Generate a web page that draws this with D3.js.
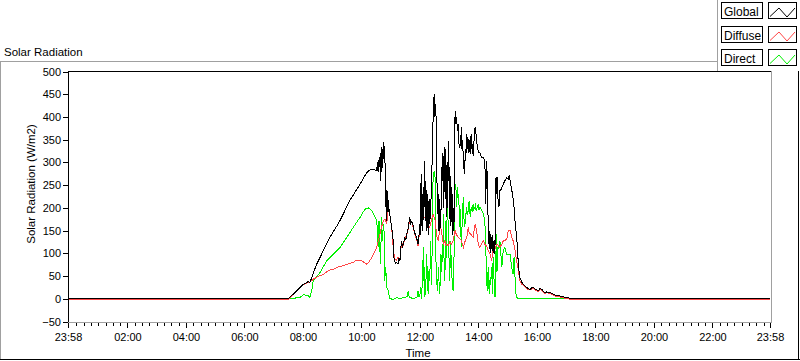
<!DOCTYPE html>
<html><head><meta charset="utf-8">
<script src="https://cdn.jsdelivr.net/npm/d3@7/dist/d3.min.js"></script>
<style>
html,body{margin:0;padding:0;background:#fff;}
svg{display:block;font-family:"Liberation Sans",Arial,sans-serif;}
</style></head><body>
<svg id="c" width="800" height="361"></svg>
<script>
// ---------- data ----------
const chartTitle = "Solar Radiation";
const xTitle = "Time";
const yTitle = "Solar Radiation (W/m2)";
const seriesNames = ["Global", "Diffuse", "Direct"];
const seriesColors = ["#000000", "#ff4545", "#00f000"];
// time in minutes after midnight (23:58 of previous day = -2)
const xTickValues = [-2, 120, 240, 360, 480, 600, 720, 840, 960, 1080, 1200, 1320, 1438];
const xTickLabels = ["23:58", "02:00", "04:00", "06:00", "08:00", "10:00", "12:00", "14:00", "16:00", "18:00", "20:00", "22:00", "23:58"];
const yTickValues = [-50, 0, 50, 100, 150, 200, 250, 300, 350, 400, 450, 500];

const globalData = [[-2,0],[449,0],[460,10],[470,21],[481,32],[488,36],[491,38],[494,35],[498,47],[508,76],[515,91],[525,113],[535,135],[546,154],[556,172],[566,194],[576,216],[587,235],[597,252],[604,265],[611,278],[617,283],[624,285],[631,282],[633,300],[634,280],[635,305],[636,290],[638,311],[639,260],[640,320],[641,333],[642,280],[643,330],[644,300],[645,340],[646,344],[647,310],[648,319],[649,250],[650,201],[651,240],[652,172],[653,220],[654,238],[655,190],[656,200],[658,187],[660,170],[662,157],[665,128],[667,84],[670,78],[672,80],[675,76],[677,90],[679,84],[682,128],[684,115],[686,121],[689,135],[691,130],[693,143],[696,157],[699,179],[701,165],[703,170],[706,161],[708,150],[710,143],[713,135],[716,120],[718,140],[720,164],[721,140],[722,250],[723,275],[724,160],[725,230],[726,150],[727,245],[728,180],[729,304],[730,201],[731,260],[732,172],[733,240],[734,150],[735,164],[736,230],[737,201],[738,140],[739,220],[740,164],[742,200],[744,260],[746,355],[747,399],[749,450],[750,400],[751,428],[752,421],[753,400],[754,370],[755,250],[756,186],[757,230],[758,150],[759,170],[760,220],[761,150],[762,190],[764,201],[765,290],[766,260],[767,320],[768,296],[769,200],[770,310],[771,333],[772,220],[773,330],[774,180],[775,289],[776,300],[777,200],[778,348],[779,260],[780,290],[781,201],[782,160],[783,270],[784,170],[785,245],[786,140],[787,230],[788,150],[789,200],[790,170],[791,300],[792,414],[793,384],[795,399],[797,370],[799,384],[800,340],[802,333],[803,360],[804,348],[805,377],[806,330],[807,350],[809,311],[810,290],[811,275],[812,290],[813,330],[814,304],[815,340],[816,362],[817,330],[818,355],[819,348],[820,320],[821,350],[823,318],[824,345],[825,362],[826,330],[827,340],[828,320],[829,318],[831,350],[833,377],[835,362],[837,340],[840,322],[843,322],[845,315],[847,311],[850,311],[853,304],[854,260],[855,208],[856,280],[857,304],[858,260],[859,200],[860,172],[861,120],[862,150],[863,110],[864,143],[865,100],[866,135],[867,128],[868,105],[869,140],[870,113],[871,100],[872,130],[873,98],[874,120],[875,200],[876,267],[877,230],[878,255],[879,267],[880,220],[882,201],[884,238],[886,240],[888,245],[891,252],[894,260],[896,262],[898,267],[901,263],[903,271],[906,252],[908,240],[910,230],[913,201],[915,170],[917,150],[920,113],[922,69],[925,47],[929,36],[932,32],[935,28],[939,25],[942,22],[946,21],[949,24],[952,25],[955,22],[958,20],[963,18],[966,22],[970,21],[973,16],[976,14],[980,15],[987,14],[993,10],[1000,7],[1007,6],[1014,4],[1021,3],[1028,1],[1038,0],[1438,0]];

const diffuseData = [[-2,-2],[449,-2],[460,9],[470,20],[481,31],[488,35],[494,36],[501,43],[511,49],[522,54],[532,62],[542,65],[552,70],[563,73],[573,77],[583,80],[590,85],[595,83],[600,84],[605,80],[611,76],[614,79],[617,84],[621,90],[624,98],[628,105],[631,113],[635,128],[638,143],[641,157],[645,172],[648,175],[650,170],[652,164],[654,195],[656,200],[658,186],[660,170],[662,157],[665,113],[668,87],[672,85],[675,91],[679,84],[682,125],[686,118],[689,132],[693,140],[696,154],[699,176],[703,168],[706,158],[710,140],[713,132],[716,117],[718,135],[720,160],[723,186],[726,175],[730,180],[734,179],[737,165],[740,157],[744,175],[747,186],[749,180],[751,172],[754,143],[756,130],[758,128],[761,164],[764,150],[766,135],[768,120],[771,128],[773,118],[775,120],[778,117],[781,125],[785,120],[788,128],[792,150],[795,140],[799,135],[802,132],[805,128],[809,113],[812,125],[816,135],[819,157],[821,145],[823,143],[826,140],[829,135],[833,164],[836,150],[840,117],[843,113],[847,122],[850,128],[853,120],[857,115],[860,106],[864,98],[867,84],[870,106],[874,110],[877,120],[880,118],[884,113],[888,120],[891,128],[894,128],[898,131],[901,150],[905,151],[908,135],[911,128],[915,106],[918,84],[922,62],[925,40],[929,32],[932,30],[935,26],[939,23],[942,20],[946,19],[949,22],[952,23],[955,20],[958,18],[963,16],[966,20],[970,19],[973,14],[976,12],[980,13],[987,12],[993,8],[1000,5],[1007,4],[1014,2],[1021,1],[1028,-1],[1038,-2],[1438,-2]];

const directData = [[-2,0],[453,0],[474,3],[481,9],[491,7],[494,3],[498,18],[501,40],[508,48],[515,58],[529,84],[542,98],[556,113],[570,135],[583,157],[597,179],[607,197],[614,200],[621,194],[628,179],[631,172],[633,150],[634,113],[635,140],[636,172],[637,130],[639,76],[640,120],[641,179],[642,150],[643,128],[644,150],[646,164],[647,100],[648,40],[649,70],[650,62],[652,25],[655,18],[658,0],[665,-1],[672,2],[680,1],[690,3],[694,5],[696,18],[698,3],[705,1],[712,2],[715,5],[716,18],[718,3],[720,10],[721,25],[723,0],[725,40],[727,113],[728,40],[729,69],[730,3],[732,30],[734,98],[735,40],[737,10],[738,60],[740,40],[742,128],[743,50],[744,30],[745,120],[747,275],[749,280],[751,267],[752,113],[754,40],[756,18],[758,69],[760,10],[761,25],[763,98],[764,60],[766,120],[767,80],[768,186],[769,100],[771,40],[773,172],[774,90],[776,201],[778,164],[779,110],[781,40],[783,128],[784,80],[786,40],[787,25],[788,18],[790,98],[792,252],[794,238],[795,201],[797,245],[798,230],[800,210],[801,157],[802,201],[803,170],[805,113],[807,186],[809,223],[810,180],[812,157],[813,175],[816,201],[817,185],[819,194],[821,216],[823,179],[824,195],[826,201],[827,190],[829,208],[830,195],[833,201],[834,210],[835,194],[837,200],[840,208],[841,195],[843,201],[847,194],[850,186],[853,172],[855,113],[857,40],[858,18],[860,69],[862,10],[864,47],[865,30],[867,69],[869,10],[870,91],[872,40],[874,3],[875,69],[877,143],[878,60],[880,113],[882,110],[884,128],[886,98],[888,69],[890,98],[891,106],[894,113],[896,105],[898,98],[901,98],[905,98],[908,69],[911,54],[913,91],[915,47],[917,10],[918,3],[922,0],[1438,0]];

// ---------- drawing ----------
const svg = d3.select("#c");
const x = d3.scaleLinear().domain([-2, 1438]).range([68, 770]);
const y = d3.scaleLinear().domain([-50, 500]).range([321.5, 71.5]);

// outer frame
svg.append("line").attr("x1",0).attr("x2",717).attr("y1",61.5).attr("y2",61.5).attr("stroke","#a0a0a0");
svg.append("line").attr("x1",0.5).attr("x2",0.5).attr("y1",61.5).attr("y2",360).attr("stroke","#a0a0a0");
svg.append("line").attr("x1",0).attr("x2",800).attr("y1",359.5).attr("y2",359.5).attr("stroke","#000");
svg.append("line").attr("x1",798.5).attr("x2",798.5).attr("y1",61).attr("y2",360).attr("stroke","#000");

// chart title
svg.append("text").attr("x",4).attr("y",55.5).attr("font-size","11.5px").attr("fill","#000").text(chartTitle);

// plot area borders
svg.append("line").attr("x1",68).attr("x2",772).attr("y1",71.5).attr("y2",71.5).attr("stroke","#000");
svg.append("line").attr("x1",68.5).attr("x2",68.5).attr("y1",71).attr("y2",322).attr("stroke","#000");
svg.append("line").attr("x1",771.5).attr("x2",771.5).attr("y1",71).attr("y2",323).attr("stroke","#a0a0a0");
svg.append("line").attr("x1",68).attr("x2",772).attr("y1",322.5).attr("y2",322.5).attr("stroke","#a0a0a0");

// y axis
const yAxis = svg.append("g").attr("transform","translate(67.5,0)")
  .call(d3.axisLeft(y).tickValues(yTickValues).tickSize(5).tickPadding(1.5).tickSizeOuter(0));
yAxis.select(".domain").remove();
yAxis.selectAll("line").attr("stroke","#000").attr("shape-rendering","crispEdges");
yAxis.selectAll("text").attr("font-size","11px").attr("font-family","'Liberation Sans',Arial,sans-serif").attr("fill","#000");

// x axis minor
const minorVals = d3.range(0, 1440, 15).filter(v => v % 120 !== 0);
const xMinor = svg.append("g").attr("transform","translate(0,323)")
  .call(d3.axisBottom(x).tickValues(minorVals).tickSize(3).tickFormat(""));
xMinor.select(".domain").remove();
xMinor.selectAll("line").attr("stroke","#000").attr("shape-rendering","crispEdges");

// x axis major
const xAxis = svg.append("g").attr("transform","translate(0,323)")
  .call(d3.axisBottom(x).tickValues(xTickValues).tickSize(5).tickPadding(5)
    .tickFormat((d,i) => xTickLabels[i]));
xAxis.select(".domain").remove();
xAxis.selectAll("line").attr("stroke","#000").attr("shape-rendering","crispEdges");
xAxis.selectAll("text").attr("font-size","11px").attr("font-family","'Liberation Sans',Arial,sans-serif").attr("fill","#000");

// axis titles
svg.append("text").attr("x",418).attr("y",357).attr("text-anchor","middle").attr("font-size","11.5px").attr("fill","#000").text(xTitle);
svg.append("text").attr("transform","translate(35,184) rotate(-90)").attr("text-anchor","middle").attr("font-size","11.5px").attr("fill","#000").text(yTitle);

// data lines
svg.append("clipPath").attr("id","clip").append("rect").attr("x",69).attr("y",72).attr("width",702).attr("height",250);
const line = d3.line().x(d => x(d[0])).y(d => y(d[1]));
const plotG = svg.append("g").attr("clip-path","url(#clip)");
const seriesData = [directData, diffuseData, globalData];
const seriesCol = [seriesColors[2], seriesColors[1], seriesColors[0]];
seriesData.forEach((data, i) => {
  plotG.append("path").datum(data).attr("d", line).attr("fill","none")
    .attr("stroke", seriesCol[i]).attr("stroke-width",1).attr("shape-rendering","crispEdges");
});

// legend
const lg = svg.append("g");
lg.append("rect").attr("x",717).attr("y",0).attr("width",83).attr("height",71).attr("fill","#fff");
lg.append("line").attr("x1",717.5).attr("x2",717.5).attr("y1",0).attr("y2",71).attr("stroke","#a0a0a0");
const rowTops = [2, 26, 49];
const zig = d3.line();
seriesNames.forEach((name, i) => {
  const t = rowTops[i];
  lg.append("rect").attr("x",721.5).attr("y",t+0.5).attr("width",41).attr("height",16)
    .attr("fill","#fff").attr("stroke","#000");
  lg.append("text").attr("x",724).attr("y",t+14).attr("font-size","12px").attr("fill","#000").text(name);
  lg.append("rect").attr("x",768.5).attr("y",t+0.5).attr("width",28).attr("height",16)
    .attr("fill","#fff").attr("stroke","#000");
  lg.append("path").attr("d", zig([[770,t+14.5],[779,t+6],[787,t+15],[795,t+6]]))
    .attr("fill","none").attr("stroke",seriesColors[i]).attr("stroke-width",1);
});
</script>
</body></html>
